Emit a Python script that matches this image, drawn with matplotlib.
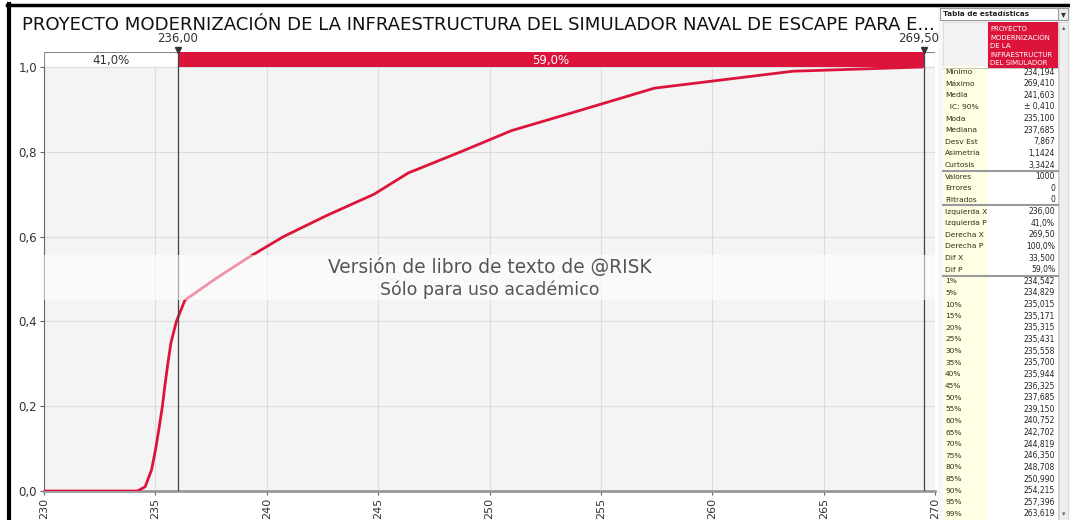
import matplotlib
matplotlib.use("Agg")
import matplotlib.pyplot as plt
from matplotlib.patches import Rectangle
from matplotlib.lines import Line2D
from matplotlib.transforms import Bbox

W, H = 1070, 520

title = "PROYECTO MODERNIZACIÓN DE LA INFRAESTRUCTURA DEL SIMULADOR NAVAL DE ESCAPE PARA E..."

# curva acumulada (valores de la tabla de percentiles)
cdf_x = [230.0, 234.194, 234.542, 234.829, 235.015, 235.171, 235.315, 235.431, 235.558,
         235.700, 235.944, 236.325, 237.685, 239.150, 240.752, 242.702, 244.819, 246.350,
         248.708, 250.990, 254.215, 257.396, 263.619, 269.410]
cdf_p = [0.0, 0.0, 0.01, 0.05, 0.10, 0.15, 0.20, 0.25, 0.30, 0.35, 0.40, 0.45, 0.50, 0.55,
         0.60, 0.65, 0.70, 0.75, 0.80, 0.85, 0.90, 0.95, 0.99, 1.0]

left_x, right_x = 236.00, 269.50
left_lab, right_lab = "236,00", "269,50"
left_p, mid_p = "41,0%", "59,0%"
x_ticks = [230, 235, 240, 245, 250, 255, 260, 265, 270]
y_ticks = [0.0, 0.2, 0.4, 0.6, 0.8, 1.0]
y_labels = ["0,0", "0,2", "0,4", "0,6", "0,8", "1,0"]

stat_labels = ["Mínimo", "Máximo", "Media", "  IC: 90%", "Moda", "Mediana", "Desv Est",
               "Asimetría", "Curtosis", "Valores", "Errores", "Filtrados", "Izquierda X",
               "Izquierda P", "Derecha X", "Derecha P", "Dif X", "Dif P",
               "1%", "5%", "10%", "15%", "20%", "25%", "30%", "35%", "40%", "45%", "50%",
               "55%", "60%", "65%", "70%", "75%", "80%", "85%", "90%", "95%", "99%"]
stat_values = ["234,194", "269,410", "241,603", "± 0,410", "235,100", "237,685", "7,867",
               "1,1424", "3,3424", "1000", "0", "0", "236,00", "41,0%", "269,50", "100,0%",
               "33,500", "59,0%",
               "234,542", "234,829", "235,015", "235,171", "235,315", "235,431", "235,558",
               "235,700", "235,944", "236,325", "237,685", "239,150", "240,752", "242,702",
               "244,819", "246,350", "248,708", "250,990", "254,215", "257,396", "263,619"]
header_lines = ["PROYECTO", "MODERNIZACIÓN", "DE LA", "INFRAESTRUCTUR", "DEL SIMULADOR"]

RED = "#dc143c"


def fx(x):
    return x / W


def fy(y):
    return 1 - y / H


def rect(x0, y0, x1, y1, **kw):
    fig.add_artist(Rectangle((fx(x0), fy(y1)), fx(x1) - fx(x0), fy(y0) - fy(y1),
                             transform=fig.transFigure, **kw))


fig = plt.figure(figsize=(W / 100, H / 100), dpi=100)
fig.patch.set_facecolor("white")

# marco negro
fig.add_artist(Line2D([fx(8.5), fx(8.5)], [fy(4), 0], color="black", lw=3, transform=fig.transFigure))
fig.add_artist(Line2D([fx(7), fx(1068)], [fy(4.5), fy(4.5)], color="black", lw=2.5, transform=fig.transFigure))

fig.text(fx(22), fy(25), title, fontsize=13.1, va="center", ha="left", color="#111111")

# grafico principal
ax = fig.add_axes([fx(44), fy(491), fx(935) - fx(44), fy(67) - fy(491)])
ax.set_facecolor("#f4f4f4")
ax.set_xlim(230, 270)
ax.set_ylim(0, 1.0)
ax.set_xticks(x_ticks)
ax.set_xticklabels([str(t) for t in x_ticks], rotation=90, fontsize=8, color="#333333")
ax.set_yticks(y_ticks)
ax.set_yticklabels(y_labels, fontsize=8.5, color="#333333")
ax.grid(True, color="#dcdcdc", lw=0.8)
ax.set_axisbelow(True)
for s in ["top", "right"]:
    ax.spines[s].set_visible(False)
ax.spines["left"].set_color("#666666")
ax.spines["bottom"].set_color("#999999")
ax.spines["bottom"].set_linewidth(2)
ax.tick_params(axis="both", length=3, color="#666666", pad=2)

ax.plot(cdf_x, cdf_p, color=RED, lw=2, zorder=3)
ax.axvline(left_x, color="#444444", lw=0.9, zorder=4)
ax.axvline(right_x, color="#444444", lw=0.9, zorder=4)

# banda de marca de agua
ax.axhspan(0.45, 0.557, color="white", alpha=0.55, lw=0, zorder=5)
ax.text(0.5, 0.528, "Versión de libro de texto de @RISK", transform=ax.transAxes,
        ha="center", va="center", fontsize=13.4, color="#555555", zorder=6)
ax.text(0.5, 0.474, "Sólo para uso académico", transform=ax.transAxes,
        ha="center", va="center", fontsize=12.5, color="#555555", zorder=6)

# barra superior
axb = fig.add_axes([fx(44), fy(67), fx(935) - fx(44), fy(52) - fy(67)], sharex=ax)
axb.set_ylim(0, 1)
axb.barh(0.5, left_x - 230, left=230, height=1, color="white", edgecolor="#888888", lw=0.8)
axb.barh(0.5, right_x - left_x, left=left_x, height=1, color=RED, lw=0)
axb.barh(0.5, 270 - right_x, left=right_x, height=1, color="white", edgecolor="#888888", lw=0.8)
axb.text((230 + left_x) / 2, 0.45, left_p, ha="center", va="center", fontsize=8.5, color="#333333")
axb.text((left_x + right_x) / 2, 0.45, mid_p, ha="center", va="center", fontsize=8.5, color="white")
axb.axis("off")
for xv, lab, dx in [(left_x, left_lab, 0), (right_x, right_lab, -5)]:
    axb.plot([xv, xv], [0, 1.25], color="#444444", lw=0.9, clip_on=False)
    axb.plot([xv], [1.15], marker="v", ms=5, color="#333333", clip_on=False)
    axb.annotate(lab, (xv, 1.45), xytext=(dx, 0), textcoords="offset pixels",
                 ha="center", va="bottom", fontsize=8.5, color="#333333",
                 annotation_clip=False, zorder=10)

# tabla de estadisticas
rect(938, 6, 1070, 520, facecolor="#f7f7f7", edgecolor="none", zorder=0)
rect(940, 8, 1068, 20, facecolor="white", edgecolor="#9a9a9a", lw=0.8)
rect(1058, 8, 1068, 20, facecolor="#eeeeee", edgecolor="#9a9a9a", lw=0.8)
fig.text(fx(1063), fy(14.5), "▾", fontsize=7, ha="center", va="center", color="#333333")
fig.text(fx(943), fy(14), "Tabla de estadísticas", fontsize=5.2, fontweight="bold",
         ha="left", va="center", color="#222222")
rect(943, 22, 1058, 520, facecolor="white", edgecolor="#c8c8c8", lw=0.6)
rect(943, 22, 988, 68, facecolor="#f3f3f3", edgecolor="#dddddd", lw=0.5)
rect(988, 22, 1058, 68, facecolor=RED, edgecolor="none")
clip = fig.transFigure.transform_bbox(Bbox([[fx(988), fy(68)], [fx(1058), fy(22)]]))
for i, ln in enumerate(header_lines):
    t = fig.text(fx(990), fy(29 + i * 8.6), ln, fontsize=5, color="white", ha="left", va="center")
    t.set_clip_box(clip)
rect(943, 66, 988, 520, facecolor="#ffffe6", edgecolor="none")
row_h = 11.63
for i, (lab, val) in enumerate(zip(stat_labels, stat_values)):
    yc = 72 + i * row_h
    fig.text(fx(945), fy(yc), lab, fontsize=5.4, ha="left", va="center", color="#2e2e10")
    fig.text(fx(1055), fy(yc), val, fontsize=5.5, ha="right", va="center", color="#222222")
for ys in [170.5, 205.5, 276]:
    fig.add_artist(Line2D([fx(943), fx(1058)], [fy(ys), fy(ys)], color="#9a9a9a", lw=1.5,
                          transform=fig.transFigure))
fig.add_artist(Line2D([fx(943), fx(1058)], [fy(68), fy(68)], color="#bbbbbb", lw=0.6,
                      transform=fig.transFigure))
# barra de desplazamiento
rect(1059, 22, 1068, 520, facecolor="#eeeeee", edgecolor="#d0d0d0", lw=0.5)
fig.text(fx(1063.5), fy(28), "▴", fontsize=5, ha="center", va="center", color="#666666")
fig.text(fx(1063.5), fy(514), "▾", fontsize=5, ha="center", va="center", color="#666666")

fig.savefig("out.png", dpi=100)
